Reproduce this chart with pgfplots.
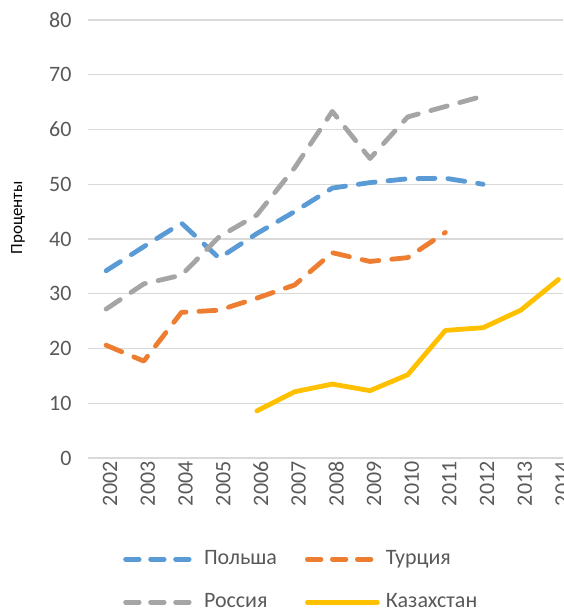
\documentclass[border=0pt]{standalone}
\usepackage{pgfplots}
\pgfplotsset{compat=1.18}
\usepackage{fontspec}
\setmainfont{Carlito}
\definecolor{cblue}{HTML}{5B9BD5}
\definecolor{corange}{HTML}{ED7D31}
\definecolor{cgray}{HTML}{A5A5A5}
\definecolor{cyellow}{HTML}{FFC000}
\definecolor{gridgray}{HTML}{D9D9D9}
\definecolor{labelgray}{HTML}{595959}
\pgfplotsset{dashleg/.style={legend image code/.code={\draw[##1, dash pattern=on 13.5pt off 11.5pt] (0pt,0pt) -- (70pt,0pt);}}}
\begin{document}
\begin{tikzpicture}
\begin{axis}[name=ax, scale only axis, width=475pt, height=438pt,
  xmin=-0.48, xmax=12.12, ymin=0, ymax=80,
  xtick={0,1,2,3,4,5,6,7,8,9,10,11,12},
  xticklabels={2002,2003,2004,2005,2006,2007,2008,2009,2010,2011,2012,2013,2014},
  ytick={0,10,20,30,40,50,60,70,80},
  ymajorgrids, grid style={draw=gridgray, line width=1.3pt},
  axis line style={draw=none}, tick style={draw=none}, major tick length=0pt,
  tick label style={font=\fontsize{22}{22}\selectfont, text=labelgray},
  xticklabel style={rotate=90, anchor=east, yshift=-4pt},
  yticklabel style={xshift=-13pt},
  /pgf/number format/assume math mode=true,
  ylabel={Проценты}, ylabel style={font=\fontsize{17}{17}\selectfont, text=black, at={(rel axis cs:-0.147,0.548)}, anchor=center, rotate=0},
  clip=false,
  legend columns=2,
  legend cell align=left,
  legend style={draw=none, fill=none, inner sep=0pt, at={(rel axis cs:0.0737,-0.202)}, anchor=north west,
    font=\fontsize{22}{22}\selectfont, text=labelgray,
    nodes={inner sep=2pt, text height=16pt, text depth=5pt},
    row sep=18pt,
    /tikz/every odd column/.append style={column sep=4pt},
    /tikz/every even column/.append style={column sep=26pt}},
  legend image code/.code={\draw[#1] (0pt,0pt) -- (70pt,0pt);},
  every axis plot/.append style={line width=4.8pt, line cap=round, line join=round}
]
\addplot[cblue, dash pattern=on 17pt off 13pt, dashleg]
  coordinates {(0,34.2) (1,38.6) (2,42.9) (3,36.5) (4,41.0) (5,45.0) (6,49.3) (7,50.3) (8,51.0) (9,51.1) (10,50.0)};
\addlegendentry{Польша}
\addplot[corange, dash pattern=on 17pt off 13pt, dashleg]
  coordinates {(0,20.6) (1,17.7) (2,26.6) (3,27.0) (4,29.2) (5,31.6) (6,37.5) (7,35.9) (8,36.6) (9,41.2)};
\addlegendentry{Турция}
\addplot[cgray, dash pattern=on 17pt off 13pt, dashleg]
  coordinates {(0,27.2) (1,31.8) (2,33.4) (3,40.4) (4,44.4) (5,53.0) (6,63.3) (7,54.7) (8,62.3) (9,64.2) (10,66.1)};
\addlegendentry{Россия}
\addplot[cyellow]
  coordinates {(4,8.6) (5,12.1) (6,13.5) (7,12.3) (8,15.2) (9,23.3) (10,23.8) (11,27.0) (12,32.6)};
\addlegendentry{Казахстан}
\end{axis}
\pgfresetboundingbox
\path ([xshift=-88pt,yshift=-153pt]ax.south west) rectangle ([yshift=20pt]ax.north east);
\end{tikzpicture}
\end{document}
